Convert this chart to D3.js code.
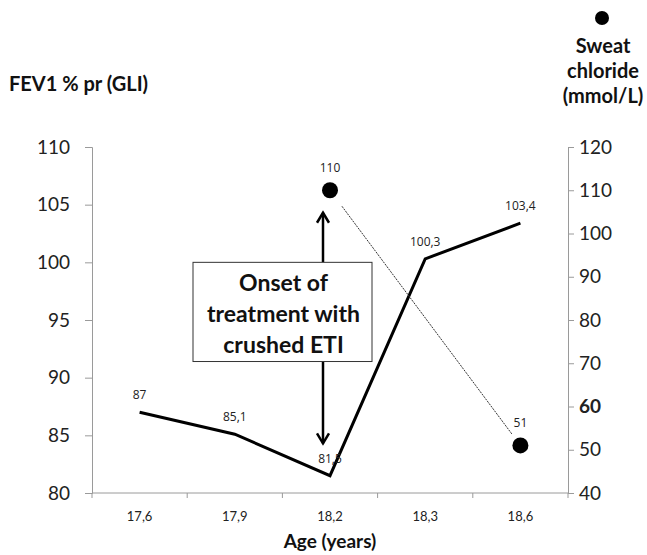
<!DOCTYPE html>
<html>
<head>
<meta charset="utf-8">
<script src="https://cdn.jsdelivr.net/npm/d3@7"></script>
<style>
  body { margin: 0; background: #fff; }
  svg text { font-family: Lato, "Open Sans", sans-serif; }
</style>
</head>
<body>
<div id="chart"></div>
<script>
// data
const ages = ["17,6", "17,9", "18,2", "18,3", "18,6"];
const fev1 = [87, 85.1, 81.5, 100.3, 103.4];
const fev1Labels = ["87", "85,1", "81,5", "100,3", "103,4"];
const sweatAges = ["18,2", "18,6"];
const sweat = [110, 51];
const leftTicks = [80, 85, 90, 95, 100, 105, 110];
const rightTicks = [40, 50, 60, 70, 80, 90, 100, 110, 120];

const width = 647, height = 555;
const margin = { top: 147, right: 79, bottom: 62, left: 92 };
const innerW = width - margin.left - margin.right;
const innerH = height - margin.top - margin.bottom;

const svg = d3.select("#chart").append("svg")
  .attr("width", width)
  .attr("height", height);

const g = svg.append("g")
  .attr("transform", "translate(" + margin.left + "," + margin.top + ")");

const x = d3.scaleBand().domain(ages).range([0, innerW]);
const cx = d => x(d) + x.bandwidth() / 2;
const yL = d3.scaleLinear().domain([80, 110]).range([innerH, 0]);
const yR = d3.scaleLinear().domain([40, 120]).range([innerH, 0]);

const axisColor = "#9a9a9a";

// x axis, ticks between categories
const xAxis = g.append("g").attr("transform", "translate(0," + innerH + ")");
xAxis.append("line").attr("x1", 0).attr("x2", innerW).attr("stroke", axisColor);
xAxis.selectAll(".tk").data(d3.range(ages.length + 1)).enter().append("line")
  .attr("x1", i => i * x.bandwidth()).attr("x2", i => i * x.bandwidth())
  .attr("y1", 0).attr("y2", 5).attr("stroke", axisColor);
xAxis.selectAll(".lbl").data(ages).enter().append("text")
  .attr("x", d => cx(d)).attr("y", 28)
  .attr("text-anchor", "middle").attr("font-size", 13).attr("fill", "#222")
  .text(d => d);

// left axis
const left = g.append("g").call(d3.axisLeft(yL).tickValues(leftTicks).tickSize(7).tickPadding(15));
left.select(".domain").attr("stroke", axisColor);
left.selectAll(".tick line").attr("stroke", axisColor);
left.selectAll(".tick text").attr("font-size", 19).attr("fill", "#222")
  .style("font-family", "Lato, sans-serif");

// right axis
const right = g.append("g").attr("transform", "translate(" + innerW + ",0)")
  .call(d3.axisRight(yR).tickValues(rightTicks).tickSize(6).tickPadding(5));
right.select(".domain").attr("stroke", axisColor);
right.selectAll(".tick line").attr("stroke", axisColor);
right.selectAll(".tick text").attr("font-size", 19).attr("fill", "#222")
  .style("font-family", "Lato, sans-serif")
  .attr("font-weight", d => d === 60 ? "bold" : "normal");

// FEV1 line
const line = d3.line().x((d, i) => cx(ages[i])).y(d => yL(d));
g.append("path").datum(fev1)
  .attr("d", line).attr("fill", "none")
  .attr("stroke", "#000").attr("stroke-width", 3).attr("stroke-linejoin", "miter");

g.selectAll(".fevlbl").data(fev1).enter().append("text")
  .attr("x", (d, i) => cx(ages[i])).attr("y", d => yL(d) - 13)
  .attr("text-anchor", "middle").attr("font-size", 12).attr("fill", "#222")
  .style("font-family", "'Open Sans', sans-serif")
  .text((d, i) => fev1Labels[i]);

// sweat chloride: dots and thin dotted connector
const p0 = [cx(sweatAges[0]), yR(sweat[0])];
const p1 = [cx(sweatAges[1]), yR(sweat[1])];
const len = Math.hypot(p1[0] - p0[0], p1[1] - p0[1]);
const ux = (p1[0] - p0[0]) / len, uy = (p1[1] - p0[1]) / len;
g.append("line")
  .attr("x1", p0[0] + ux * 20).attr("y1", p0[1] + uy * 20)
  .attr("x2", p1[0] - ux * 14).attr("y2", p1[1] - uy * 14)
  .attr("stroke", "#333").attr("stroke-width", 1).attr("stroke-dasharray", "2,1");

g.selectAll(".sweat").data(sweat).enter().append("circle")
  .attr("cx", (d, i) => cx(sweatAges[i])).attr("cy", d => yR(d))
  .attr("r", 8).attr("fill", "#000");

g.selectAll(".sweatlbl").data(sweat).enter().append("text")
  .attr("x", (d, i) => cx(sweatAges[i])).attr("y", d => yR(d) - 18)
  .attr("text-anchor", "middle").attr("font-size", 12).attr("fill", "#222")
  .style("font-family", "'Open Sans', sans-serif")
  .text(d => d);

// annotation: double arrow and box
const ax = cx("18,2") - 7;
const arrowHead = (xp, yp, dir) => {
  g.append("path")
    .attr("d", "M" + (xp - 6) + "," + (yp - dir * 10) + "L" + xp + "," + yp + "L" + (xp + 6) + "," + (yp - dir * 10))
    .attr("fill", "none").attr("stroke", "#000").attr("stroke-width", 2.5);
};
g.append("line").attr("x1", ax).attr("x2", ax).attr("y1", yL(104.3)).attr("y2", yL(100))
  .attr("stroke", "#000").attr("stroke-width", 2.5);
g.append("line").attr("x1", ax).attr("x2", ax).attr("y1", yL(91.4)).attr("y2", yL(84.3))
  .attr("stroke", "#000").attr("stroke-width", 2.5);
arrowHead(ax, yL(104.3), -1);
arrowHead(ax, yL(84.3), 1);

const boxX = 101, boxW = 179;
g.append("rect")
  .attr("x", boxX).attr("y", yL(100))
  .attr("width", boxW).attr("height", yL(91.4) - yL(100))
  .attr("fill", "#fff").attr("stroke", "#333").attr("stroke-width", 1);
const boxLines = ["Onset of", "treatment with", "crushed ETI"];
g.selectAll(".boxtxt").data(boxLines).enter().append("text")
  .attr("x", boxX + boxW / 2 + 1).attr("y", (d, i) => yL(100) + 29 + i * 31)
  .attr("text-anchor", "middle").attr("font-size", 23).attr("font-weight", "bold")
  .attr("fill", "#111").text(d => d);

// titles
svg.append("text").attr("x", 9).attr("y", 91)
  .attr("font-size", 20).attr("font-weight", "bold").attr("fill", "#111")
  .text("FEV1 % pr (GLI)");

svg.append("circle").attr("cx", 602).attr("cy", 18).attr("r", 7).attr("fill", "#000");
svg.selectAll(".rt").data(["Sweat", "chloride", "(mmol/L)"]).enter().append("text")
  .attr("x", 603).attr("y", (d, i) => 53 + i * 25)
  .attr("text-anchor", "middle").attr("font-size", 20).attr("font-weight", "bold")
  .attr("fill", "#111").text(d => d);

svg.append("text").attr("x", margin.left + innerW / 2).attr("y", 548)
  .attr("text-anchor", "middle").attr("font-size", 19).attr("font-weight", "bold")
  .attr("fill", "#111").text("Age (years)");
</script>
</body>
</html>
